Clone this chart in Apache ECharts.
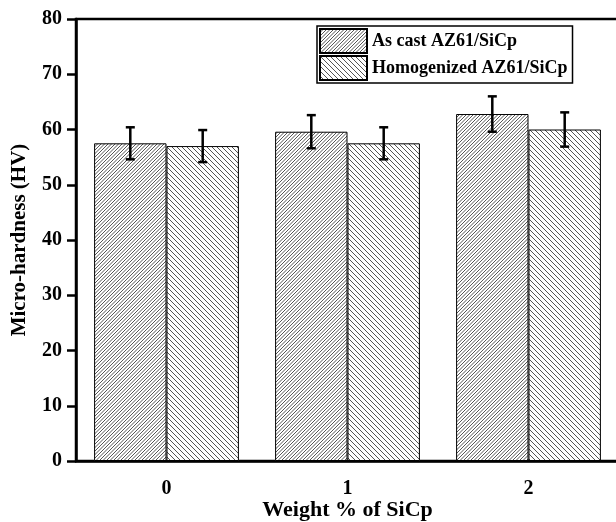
<!DOCTYPE html>
<html>
<head>
<meta charset="utf-8">
<script src="https://cdn.jsdelivr.net/npm/echarts@6/dist/echarts.min.js"></script>
<style>
  html, body { margin: 0; padding: 0; background: #fff; }
  #chart { width: 616px; height: 522px; }
</style>
</head>
<body>
<div id="chart"></div>
<script>
// data
var categories = ['0', '1', '2'];
var asCast = [57.5, 59.6, 62.8];
var asCastErr = [2.9, 3.0, 3.2];
var homogenized = [57.0, 57.5, 60.0];
var homogenizedErr = [2.9, 2.9, 3.1];
var yTicks = [0, 10, 20, 30, 40, 50, 60, 70, 80];

var serif = '"Liberation Serif", "DejaVu Serif", serif';

// hatch fill: tile of size s with n parallel lines, dir 1 = "/", dir -1 = "\"
function hatch(s, n, dir) {
  var c = document.createElement('canvas');
  c.width = s; c.height = s;
  var ctx = c.getContext('2d');
  ctx.fillStyle = '#fff';
  ctx.fillRect(0, 0, s, s);
  ctx.strokeStyle = '#555';
  ctx.lineWidth = 1;
  ctx.beginPath();
  var step = s / n;
  for (var k = -n; k <= n; k++) {
    var o = k * step;
    if (dir > 0) {
      ctx.moveTo(o, s);
      ctx.lineTo(o + s, 0);
    } else {
      ctx.moveTo(o, 0);
      ctx.lineTo(o + s, s);
    }
  }
  ctx.stroke();
  return { image: c, repeat: 'repeat' };
}

function errData(vals, errs) {
  return vals.map(function(v, i) { return [i, v, errs[i]]; });
}

// error bar at the centre of each bar of the group
function errRender(side) {
  return function(params, api) {
    var i = api.value(0), v = api.value(1), e = api.value(2);
    var band = api.size([1, 0])[0];
    var cx = api.coord([i, v])[0] + side * band * 0.2;
    var top = api.coord([i, v + e])[1];
    var bot = api.coord([i, v - e])[1];
    var hw = 4.5;
    var st = { stroke: '#000', lineWidth: 2.5 };
    return {
      type: 'group',
      children: [
        { type: 'line', shape: { x1: cx, y1: top, x2: cx, y2: bot }, style: st },
        { type: 'line', shape: { x1: cx - hw, y1: top, x2: cx + hw, y2: top }, style: st },
        { type: 'line', shape: { x1: cx - hw, y1: bot, x2: cx + hw, y2: bot }, style: st }
      ]
    };
  };
}

var myChart = echarts.init(document.getElementById('chart'));

var option = {
  animation: false,
  backgroundColor: '#fff',
  grid: {
    left: 76, right: -3, top: 19, bottom: 61,
    outerBoundsMode: 'none',
    containLabel: false,
    show: true, borderColor: '#000', borderWidth: 2.5
  },
  legend: {
    data: ['As cast AZ61/SiCp', 'Homogenized AZ61/SiCp'],
    orient: 'vertical',
    left: 317, top: 26,
    padding: [2, 5, 2, 2],
    itemGap: 1,
    itemWidth: 47, itemHeight: 24,
    icon: 'rect',
    borderColor: '#000', borderWidth: 1.5,
    backgroundColor: '#fff',
    textStyle: { fontFamily: serif, fontWeight: 'bold', fontSize: 18, color: '#000' }
  },
  xAxis: {
    type: 'category',
    data: categories,
    name: 'Weight % of SiCp',
    nameLocation: 'middle',
    nameGap: 38,
    nameMoveOverlap: false,
    nameTextStyle: { fontFamily: serif, fontWeight: 'bold', fontSize: 22, color: '#000' },
    axisLine: { lineStyle: { color: '#000', width: 2.5 } },
    axisTick: { alignWithLabel: true, length: 8, lineStyle: { color: '#000', width: 2.5 } },
    axisLabel: { fontFamily: serif, fontWeight: 'bold', fontSize: 20, color: '#000', margin: 18 },
    splitLine: { show: false }
  },
  yAxis: {
    type: 'value',
    min: yTicks[0], max: yTicks[yTicks.length - 1], interval: 10,
    name: 'Micro-hardness (HV)',
    nameLocation: 'middle',
    nameGap: 46,
    nameMoveOverlap: false,
    nameTextStyle: { fontFamily: serif, fontWeight: 'bold', fontSize: 21, color: '#000' },
    axisLine: { show: true, lineStyle: { color: '#000', width: 2.5 } },
    axisTick: { show: true, length: 9, lineStyle: { color: '#000', width: 2.5 } },
    axisLabel: { fontFamily: serif, fontWeight: 'bold', fontSize: 20, color: '#000', margin: 14 },
    splitLine: { show: false }
  },
  series: [
    {
      name: 'As cast AZ61/SiCp',
      type: 'bar',
      data: asCast,
      barGap: '0%',
      barCategoryGap: '20%',
      itemStyle: { color: hatch(7, 2, 1), borderColor: '#000', borderWidth: 1 }
    },
    {
      name: 'Homogenized AZ61/SiCp',
      type: 'bar',
      data: homogenized,
      itemStyle: { color: hatch(5, 1, -1), borderColor: '#000', borderWidth: 1 }
    },
    {
      name: 'err1',
      type: 'custom',
      renderItem: errRender(-1),
      data: errData(asCast, asCastErr),
      encode: { x: 0, y: 1 },
      z: 5
    },
    {
      name: 'err2',
      type: 'custom',
      renderItem: errRender(1),
      data: errData(homogenized, homogenizedErr),
      encode: { x: 0, y: 1 },
      z: 5
    }
  ]
};

myChart.setOption(option);
</script>
</body>
</html>
